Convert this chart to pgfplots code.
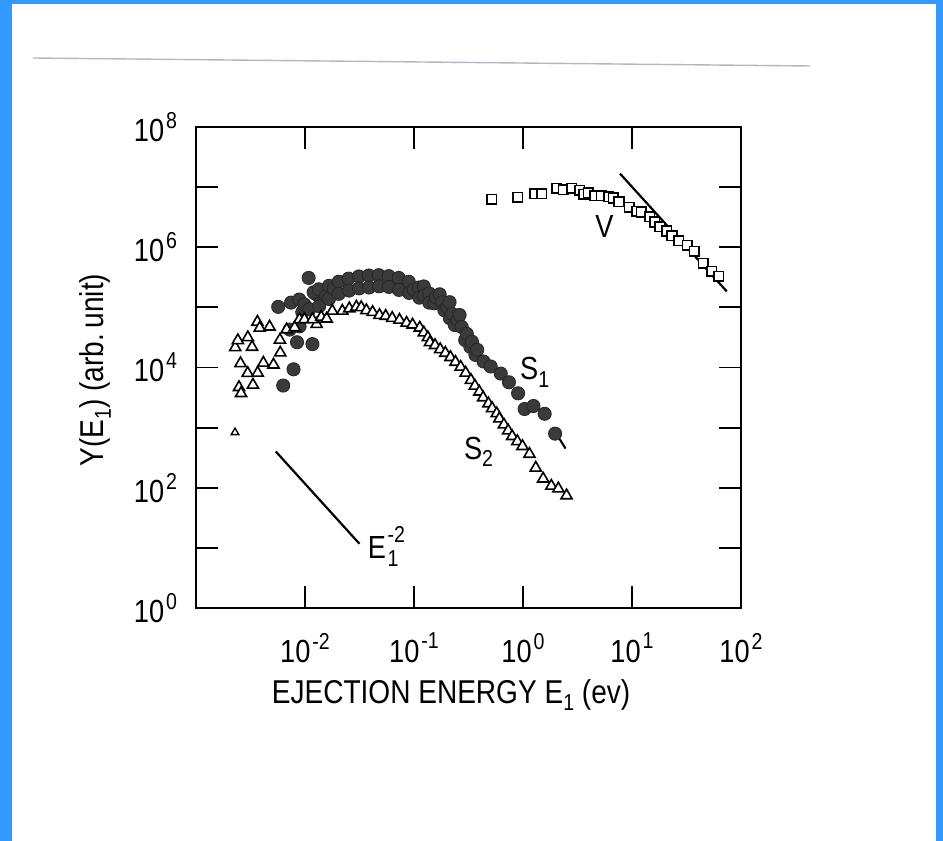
\documentclass[border=0pt]{standalone}
\usepackage{pgfplots}
\pgfplotsset{compat=1.18}
\usepackage{fontspec}
\setmainfont{Liberation Sans}[FakeStretch=0.85]

\definecolor{frameblue}{RGB}{51,153,255}
\definecolor{scanline}{RGB}{185,180,195}
\definecolor{dotfill}{RGB}{58,58,58}

% powers of ten for the tick labels
\newcommand{\dec}[1]{10\kern0.06em\raisebox{0.78ex}{\fontsize{11.5}{11.5}\selectfont #1}}
\newcommand{\lab}{\fontsize{16}{16}\selectfont}
\newcommand{\sub}[1]{\raisebox{-0.45ex}{\fontsize{11.5}{11.5}\selectfont #1}}

\begin{document}
\begin{tikzpicture}
  % page with its coloured frame
  \fill[frameblue] (0,0) rectangle (471.5pt,420.5pt);
  \fill[white] (6pt,0) rectangle (468pt,418.5pt);
  \path[use as bounding box] (0,0) rectangle (471.5pt,420.5pt);
  \draw[scanline, line width=0.7pt] (16.5pt,391.5pt) -- (405pt,387.5pt);

  \begin{axis}[
    at={(98pt,116.5pt)}, anchor=south west,
    scale only axis, width=272.5pt, height=240.5pt,
    xmode=log, ymode=log,
    xmin=1e-3, xmax=1e2, ymin=1, ymax=1e8,
    xminorticks=false, yminorticks=false,
    tick align=inside, major tick length=11pt,
    axis line style={line width=1pt},
    every tick/.style={black, line width=0.9pt},
    xtick={0.01,0.1,1,10,100},
    xticklabels={\dec{-2},\dec{-1},\dec{0},\dec{1},\dec{2}},
    ytick={1,10,100,1000,1e4,1e5,1e6,1e7,1e8},
    yticklabels={\dec{0},{},\dec{2},{},\dec{4},{},\dec{6},{},\dec{8}},
    ticklabel style={font=\fontsize{16}{16}\selectfont},
    xticklabel style={yshift=-9pt},
    yticklabel style={xshift=-6pt},
    clip=false,
  ]
    % S1: filled circles
    \addplot[only marks, mark=*, mark size=3.3pt,
             mark options={fill=dotfill, draw=black!85, line width=0.4pt}]
      table {
      E        Y
      0.00631  5010
      0.00785  9330
      0.00845  26300
      0.0117   24500
      0.00724  42700
      0.00891  48300
      0.00944  82800
      0.00568  102000
      0.00745  120000
      0.00885  135000
      0.00986  112000
      0.0110   93300
      0.0135   105000
      0.0108   309000
      0.0126   166000
      0.0120   178000
      0.0134   200000
      0.0156   155000
      0.0166   138000
      0.0166   228000
      0.0184   204000
      0.0204   267000
      0.0204   168000
      0.0251   301000
      0.0254   190000
      0.0312   327000
      0.0313   207000
      0.0385   339000
      0.0387   214000
      0.0475   343000
      0.0479   224000
      0.0586   331000
      0.0589   219000
      0.0724   309000
      0.0728   195000
      0.0895   267000
      0.0902   174000
      0.0995   197000
      0.111    214000
      0.112    145000
      0.123    223000
      0.124    157000
      0.138    170000
      0.138    120000
      0.153    117000
      0.159    147000
      0.172    165000
      0.181    122000
      0.190    89700
      0.202    101000
      0.212    122000
      0.213    66100
      0.225    77600
      0.237    50700
      0.251    61700
      0.262    74700
      0.274    47200
      0.295    28600
      0.305    36300
      0.329    22000
      0.340    26900
      0.366    16200
      0.380    19700
      0.434    12600
      0.505    10400
      0.625    7940
      0.743    5680
      0.902    3720
      1.035    2040
      1.247    2290
      1.58     1700
      1.97     794
      };
    % short tail of S1
    \addplot[black, line width=1pt] coordinates {(2.15,660) (2.46,447)};

    % S2: open triangles
    \addplot[only marks, mark=triangle*, mark size=3.2pt,
             mark options={fill=white, draw=black, line width=0.8pt}]
      table {
      E        Y
      0.00229  21600
      0.00242  28200
      0.00366  57100
      0.00384  45400
      0.00473  47500
      0.00299  31600
      0.00327  21900
      0.00256  11700
      0.00248  4680
      0.00259  3720
      0.00298  8040
      0.00368  8130
      0.00333  5130
      0.00415  11900
      0.00514  11100
      0.00589  28800
      0.00593  17600
      0.00679  42700
      0.00804  46200
      0.00891  63100
      0.00989  63100
      0.0128   52500
      0.0117   63100
      0.0141   69200
      0.0158   64600
      0.0178   87100
      0.0220   87100
      0.0255   95500
      0.0296   102000
      0.0328   100000
      0.0366   89100
      0.0417   83200
      0.0482   74100
      0.0550   71600
      0.0631   66100
      0.0736   61700
      0.0855   55000
      0.0970   51300
      0.113    45700
      0.123    38000
      0.134    31600
      0.140    26100
      0.156    23400
      0.174    20000
      0.194    17400
      0.216    14800
      0.240    12300
      0.268    10200
      0.298    8130
      0.333    6170
      0.362    4950
      0.398    3940
      0.431    3160
      0.482    2510
      0.521    2090
      0.574    1720
      0.607    1410
      0.668    1120
      0.731    891
      0.796    716
      0.887    589
      0.989    490
      1.146    363
      1.309    214
      1.531    141
      1.820    107
      2.11     96.6
      2.51     74.1
      };
    \addplot[only marks, mark=triangle*, mark size=2.2pt,
             mark options={fill=white, draw=black, line width=0.7pt}]
      coordinates {(0.00228,830)};

    % V: open squares
    \addplot[only marks, mark=square*, mark size=2.4pt,
             mark options={fill=white, draw=black, line width=0.8pt}]
      table {
      E      Y
      0.518  6.31e6
      0.895  6.76e6
      1.28   7.76e6
      1.48   7.76e6
      2.03   9.55e6
      2.34   9.12e6
      2.79   9.55e6
      3.30   8.91e6
      3.63   7.59e6
      3.98   8.04e6
      4.57   7.24e6
      5.25   7.16e6
      6.12   6.92e6
      6.76   6.61e6
      7.59   5.71e6
      9.48   4.65e6
      11.0   3.98e6
      12.2   3.86e6
      14.5   3.21e6
      16.2   2.63e6
      18.0   2.19e6
      20.9   1.86e6
      23.3   1.55e6
      26.9   1.29e6
      32.1   1.07e6
      37.2   8.51e5
      45.1   5.37e5
      53.7   3.98e5
      62.4   3.31e5
      };

    % E^-2 guide lines
    \addplot[black, line width=1.1pt] coordinates {(7.76,1.68e7) (74.1,1.84e5)};
    \addplot[black, line width=1.1pt] coordinates {(0.0054,400) (0.0316,11.7)};

    % curve names
    \node[font=\lab] at (axis cs:1.28,8.4e3) {S\sub{1}};
    \node[font=\lab] at (axis cs:0.391,395) {S\sub{2}};
    \node[font=\lab] at (axis cs:5.6,2.2e6) {V};
    \node[font=\lab] at (axis cs:0.0573,10.6)
      {E\kern0.05em\rlap{\raisebox{0.95ex}{\fontsize{11.5}{11.5}\selectfont -2}}\sub{1}\phantom{-}};

    % axis titles
    \node[font=\fontsize{16.5}{16.5}\selectfont] at ([yshift=-43.5pt]rel axis cs:0.468,0)
      {EJECTION ENERGY E\sub{1} (ev)};
    \node[font=\fontsize{16.5}{16.5}\selectfont, rotate=90] at ([xshift=-50.5pt]rel axis cs:0,0.495)
      {Y(E\sub{1}) (arb.\,unit)};
  \end{axis}
\end{tikzpicture}
\end{document}
